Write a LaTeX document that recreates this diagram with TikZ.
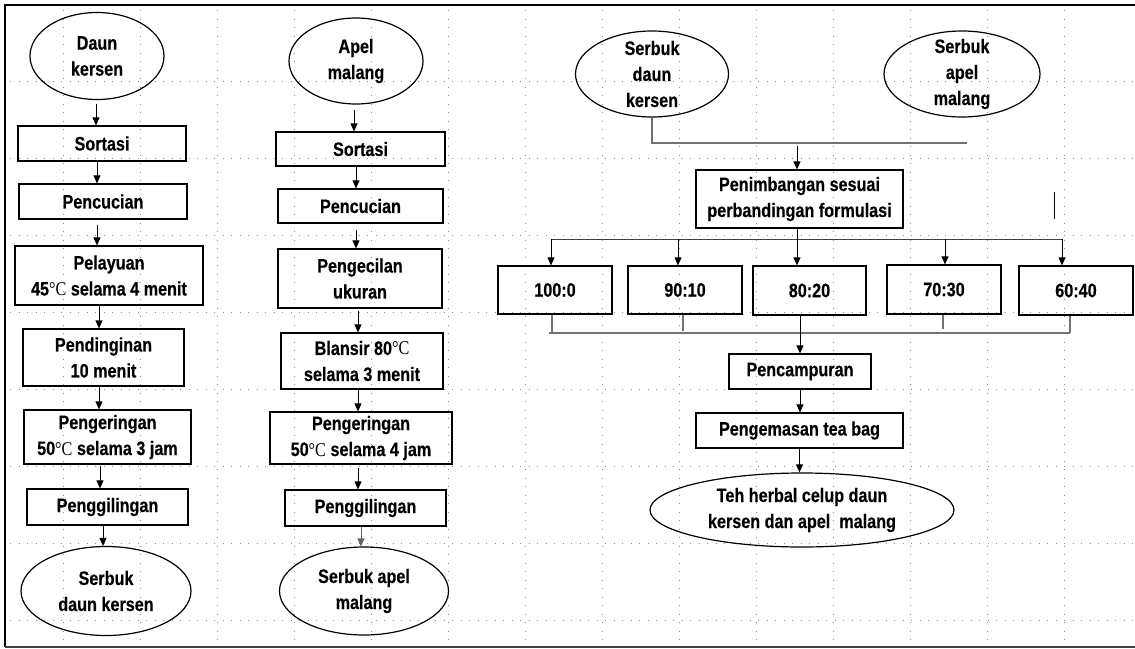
\documentclass[tikz,border=0pt]{standalone}
\usepackage{fontspec}
\setmainfont{Liberation Sans}[FakeStretch=0.83,BoldFeatures={FakeBold=0.4}]
\newfontfamily\degfont{Liberation Serif}[FakeStretch=0.83]
\newcommand\dgC{{\degfont\mdseries\char"00B0 C}}
\newcommand\txt{\fontsize{19.5}{26}\selectfont\bfseries}
\usetikzlibrary{shapes.geometric,arrows.meta}
\begin{document}
\begin{tikzpicture}[x=1pt,y=-1pt,
  box/.style={draw,line width=1.2pt,rectangle,inner sep=2pt,align=center,font=\txt},
  oval/.style={draw,line width=1.2pt,ellipse,inner sep=0pt},
  lbl/.style={align=center,font=\txt,inner sep=0pt},
  sz/.style 2 args={minimum width=#1pt,minimum height=#2pt},
  arr/.style={-{Triangle[length=8pt,width=7pt]},line width=0.9pt},
  gline/.style={line width=1.1pt,draw=black!55},
  dline/.style={line width=0.9pt,draw=black!75},
  gridline/.style={draw=black!45,line width=0.9pt,dash pattern=on 0.9pt off 7.6pt}]
\useasboundingbox (0,0) rectangle (1135,648);
% background grid
\foreach \gx in {0,...,13} \draw[gridline] ({63+77*\gx},10) -- ({63+77*\gx},645);
\foreach \gy in {0,...,7} \draw[gridline] (10,{81+77*\gy}) -- (1135,{81+77*\gy});
% frame
\draw[line width=2.4pt] (5,647) -- (5,5) -- (1135,5);
\draw[line width=2pt,draw=black!75] (5,647) -- (1135,647);

% ---- left column
\node[oval,sz={134}{87},label={[lbl]center:{Daun\\kersen}}] (dk) at (97,56) {};
\node[box,sz={168}{35}] (s1) at (102,143.5) {Sortasi};
\node[box,sz={168}{35}] (p1) at (103,201.5) {Pencucian};
\node[box,sz={188}{59}] (pl) at (109,275.5) {Pelayuan\\45\dgC{} selama 4 menit};
\node[box,sz={161}{57}] (pd) at (103.5,357.5) {Pendinginan\\10 menit};
\node[box,sz={167}{54}] (pg) at (107.5,437) {Pengeringan\\50\dgC{} selama 3 jam};
\node[box,sz={161}{36}] (gg) at (107.5,507) {Penggilingan};
\node[oval,sz={170}{89},label={[lbl]center:{Serbuk\\daun kersen}}] (sdk) at (106,591) {};

\draw[arr,shorten <=3.5pt] (dk.south -| 96,0) -- (s1.north -| 96,0);
\draw[arr] (s1.south -| 97,0) -- (p1.north -| 97,0);
\draw[arr,shorten <=5pt] (p1.south -| 97,0) -- (pl.north -| 97,0);
\draw[arr] (pl.south -| 99,0) -- (pd.north -| 99,0);
\draw[arr] (pd.south -| 99,0) -- (pg.north -| 99,0);
\draw[arr,shorten <=1.5pt] (pg.south -| 100,0) -- (gg.north -| 100,0);
\draw[arr] (gg.south -| 103,0) -- (sdk.north -| 103,0);

% ---- middle column
\node[oval,sz={134}{86},label={[lbl]center:{Apel\\malang}}] (am) at (356,61) {};
\node[box,sz={169}{34}] (s2) at (360.5,149) {Sortasi};
\node[box,sz={165}{34}] (p2) at (360.5,206) {Pencucian};
\node[box,sz={164}{59}] (pk) at (360,278.5) {Pengecilan\\ukuran};
\node[box,sz={162}{56}] (bl) at (362,361) {Blansir 80\dgC\\selama 3 menit};
\node[box,sz={182}{52}] (pg2) at (361,438) {Pengeringan\\50\dgC{} selama 4 jam};
\node[box,sz={161}{36}] (gg2) at (365.5,508) {Penggilingan};
\node[oval,sz={169}{88},label={[lbl]center:{Serbuk apel\\malang}}] (sam) at (364,591) {};

\draw[arr,shorten <=5pt] (am.south -| 354,0) -- (s2.north -| 354,0);
\draw[arr] (s2.south -| 356,0) -- (p2.north -| 356,0);
\draw[arr,shorten <=6pt] (p2.south -| 356,0) -- (pk.north -| 356,0);
\draw[arr,shorten <=2pt] (pk.south -| 358,0) -- (bl.north -| 358,0);
\draw[arr] (bl.south -| 358,0) -- (pg2.north -| 358,0);
\draw[arr,shorten <=3pt] (pg2.south -| 358,0) -- (gg2.north -| 358,0);
\draw[arr,draw=black!60] (gg2.south -| 361,0) -- (sam.north -| 361,0);

% ---- right section
\node[oval,sz={153}{86},label={[lbl]center:{Serbuk\\daun\\kersen}}] (sdk2) at (652,74) {};
\node[oval,sz={156}{86},label={[lbl]center:{Serbuk\\apel\\malang}}] (sam2) at (962,74) {};
\node[box,sz={207}{58}] (pn) at (799.5,199) {Penimbangan sesuai\\perbandingan formulasi};
\node[box,sz={114}{48}] (r1) at (555,290) {100:0};
\node[box,sz={114}{48}] (r2) at (685,290) {90:10};
\node[box,sz={113}{49}] (r3) at (809.5,290.5) {80:20};
\node[box,sz={114}{49}] (r4) at (944,289.5) {70:30};
\node[box,sz={114}{49}] (r5) at (1076,290.5) {60:40};
\node[box,sz={142}{35}] (pc) at (800,371.5) {Pencampuran};
\node[box,sz={207}{35}] (pt) at (799.5,430.5) {Pengemasan tea bag};
\node[oval,sz={304}{74},label={[lbl]center:{Teh herbal celup daun\\kersen dan apel\ \ malang}}] (fin) at (802,510) {};

\coordinate (mR) at (967,143);
\draw[gline] (sdk2.south) |- (mR);
\coordinate (mj) at (797,146);
\draw[arr] (mj) -- (mj |- pn.north);
\coordinate (st1) at (1054,192);
\coordinate (st2) at (1054,219);
\draw[line width=1pt] (st1) -- (st2);

\coordinate (dL) at (551,239);
\coordinate (d2) at (678,239);
\coordinate (d4) at (945,239);
\coordinate (dR) at (1062,239);
\draw[dline] (dL) -- (dR);
\draw[arr] (dL) -- (dL |- r1.north);
\draw[arr] (d2) -- (d2 |- r2.north);
\draw[arr] (d4) -- (d4 |- r4.north);
\draw[arr] (dR) -- (dR |- r5.north);
\draw[arr] (pn.south -| mj) -- (mj |- r3.north);

\coordinate (cL) at (549,333);
\coordinate (c1) at (552,333);
\coordinate (c2) at (683,331);
\coordinate (c4) at (943,329);
\coordinate (c5) at (1070,333);
\draw[gline] (cL) -- (c5);
\draw[gline] (c1 |- r1.south) -- (c1);
\draw[gline] (c2 |- r2.south) -- (c2);
\draw[gline] (c4 |- r4.south) -- (c4);
\draw[gline] (c5 |- r5.south) -- (c5);
\draw[arr] (r3.south -| pc.north) -- (pc.north);
\draw[arr] (pc.south) -- (pc.south |- pt.north);
\draw[arr] (pt.south) -- (pt.south |- fin.north);
\end{tikzpicture}
\end{document}
